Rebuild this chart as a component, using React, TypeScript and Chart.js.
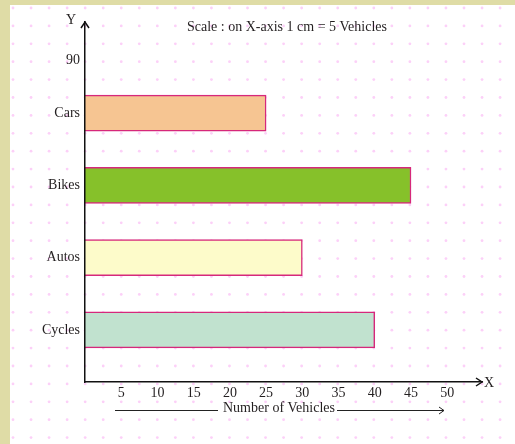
import { useEffect, useRef } from 'react';
import { Chart, registerables } from 'chart.js';

Chart.register(...registerables);

const categories = ['Cars', 'Bikes', 'Autos', 'Cycles'];
const vehicles = [25, 45, 30, 40];
const barColors = ['#f6c592', '#86c12a', '#fdfbca', '#c1e2cf'];
const xTickValues = [5, 10, 15, 20, 25, 30, 35, 40, 45, 50];
const yTopTickLabel = '90';
const titleText = 'Scale : on X-axis 1 cm = 5 Vehicles';
const xTitleText = 'Number of Vehicles';

const FONT = '"Liberation Serif", "DejaVu Serif", serif';
const TEXT = '#231f20';

// category positions on the linear index axis (top to bottom)
const rowPositions = categories.map((_, i) => categories.length - i);
const topTickPosition = categories.length + 0.73;
const yTickValues = [topTickPosition, ...rowPositions];
const yTickLabels = [yTopTickLabel, ...categories];

const decor = {
  id: 'decor',
  beforeDraw(chart: any) {
    const { ctx, width, height } = chart;
    ctx.save();
    ctx.fillStyle = '#ffffff';
    ctx.fillRect(0, 0, width, height);
    ctx.fillStyle = '#dfdca6';
    ctx.fillRect(0, 0, 10, height);
    ctx.fillRect(0, 0, width, 5);
    ctx.fillStyle = '#fcd0f8';
    for (let yy = 8; yy < height; yy += 17.9) {
      for (let xx = 13; xx < width; xx += 18.04) {
        ctx.beginPath();
        ctx.arc(xx, yy, 1.4, 0, Math.PI * 2);
        ctx.fill();
      }
    }
    ctx.restore();
  },
  afterDraw(chart: any) {
    const { ctx, chartArea } = chart;
    const { left, right, top, bottom } = chartArea;
    ctx.save();
    ctx.strokeStyle = '#111';
    ctx.lineWidth = 1.5;
    // y arrow head
    ctx.beginPath();
    ctx.moveTo(left - 4, top + 6);
    ctx.lineTo(left, top);
    ctx.lineTo(left + 4, top + 6);
    ctx.stroke();
    // x arrow head
    ctx.beginPath();
    ctx.moveTo(right - 6, bottom - 4);
    ctx.lineTo(right, bottom);
    ctx.lineTo(right - 6, bottom + 4);
    ctx.stroke();

    ctx.fillStyle = TEXT;
    ctx.font = `14px ${FONT}`;
    ctx.textBaseline = 'middle';
    ctx.textAlign = 'left';
    ctx.fillText('X', right + 2, bottom + 1);
    ctx.textAlign = 'center';
    ctx.fillText('Y', left - 14, top - 2);

    ctx.textAlign = 'left';
    ctx.fillText(titleText, 187, 27);

    // x title with lines
    ctx.textAlign = 'left';
    ctx.fillText(xTitleText, 223, 408);
    ctx.lineWidth = 1;
    ctx.strokeStyle = '#222';
    ctx.beginPath();
    ctx.moveTo(115, 410.5);
    ctx.lineTo(218, 410.5);
    ctx.moveTo(337, 410.5);
    ctx.lineTo(444, 410.5);
    ctx.stroke();
    ctx.beginPath();
    ctx.moveTo(439, 407);
    ctx.lineTo(444, 410.5);
    ctx.lineTo(439, 414);
    ctx.stroke();
    ctx.restore();
  },
};

export default function App() {
  const ref = useRef<HTMLCanvasElement>(null);
  useEffect(() => {
    if (!ref.current) return;
    const chart = new Chart(ref.current, {
      type: 'bar',
      data: {
        datasets: [
          {
            data: vehicles.map((v, i) => ({ x: v, y: rowPositions[i] })),
            backgroundColor: barColors,
            borderColor: '#d6287b',
            borderWidth: 1.5,
            borderSkipped: 'start',
            barThickness: 36,
          },
        ],
      },
      plugins: [decor],
      options: {
        responsive: false,
        animation: false,
        indexAxis: 'y',
        layout: { padding: { top: 22, right: 33, left: 0, bottom: 0 } },
        plugins: {
          legend: { display: false },
          tooltip: { enabled: false },
          title: { display: false },
        },
        scales: {
          x: {
            type: 'linear',
            min: 0,
            max: 54.8,
            offset: false,
            grid: { display: false, drawTicks: false, offset: false },
            border: { display: true, color: '#111', width: 1.5, z: 1 },
            afterBuildTicks: (s: any) => {
              s.ticks = xTickValues.map((v) => ({ value: v }));
            },
            afterFit: (s: any) => {
              s.height = 62;
            },
            ticks: {
              autoSkip: false,
              maxRotation: 0,
              padding: 3,
              color: TEXT,
              font: { family: FONT, size: 14 },
            },
          },
          y: {
            type: 'linear',
            min: 0.28,
            max: 5.26,
            offset: false,
            grid: { display: false, drawTicks: false, offset: false },
            border: { display: true, color: '#111', width: 1.5, z: 1 },
            afterBuildTicks: (s: any) => {
              s.ticks = yTickValues.map((v) => ({ value: v }));
            },
            afterFit: (s: any) => {
              s.width = 85;
            },
            ticks: {
              autoSkip: false,
              padding: 5,
              color: TEXT,
              font: { family: FONT, size: 14 },
              callback: (value: any) => {
                const idx = yTickValues.indexOf(value);
                return idx >= 0 ? yTickLabels[idx] : '';
              },
            },
          },
        },
      },
    } as any);
    return () => chart.destroy();
  }, []);
  return (
    <div style={{ position: 'absolute', left: 0, top: 0, width: 515, height: 444 }}>
      <canvas ref={ref} width={515} height={444} style={{ display: 'block' }} />
    </div>
  );
}
